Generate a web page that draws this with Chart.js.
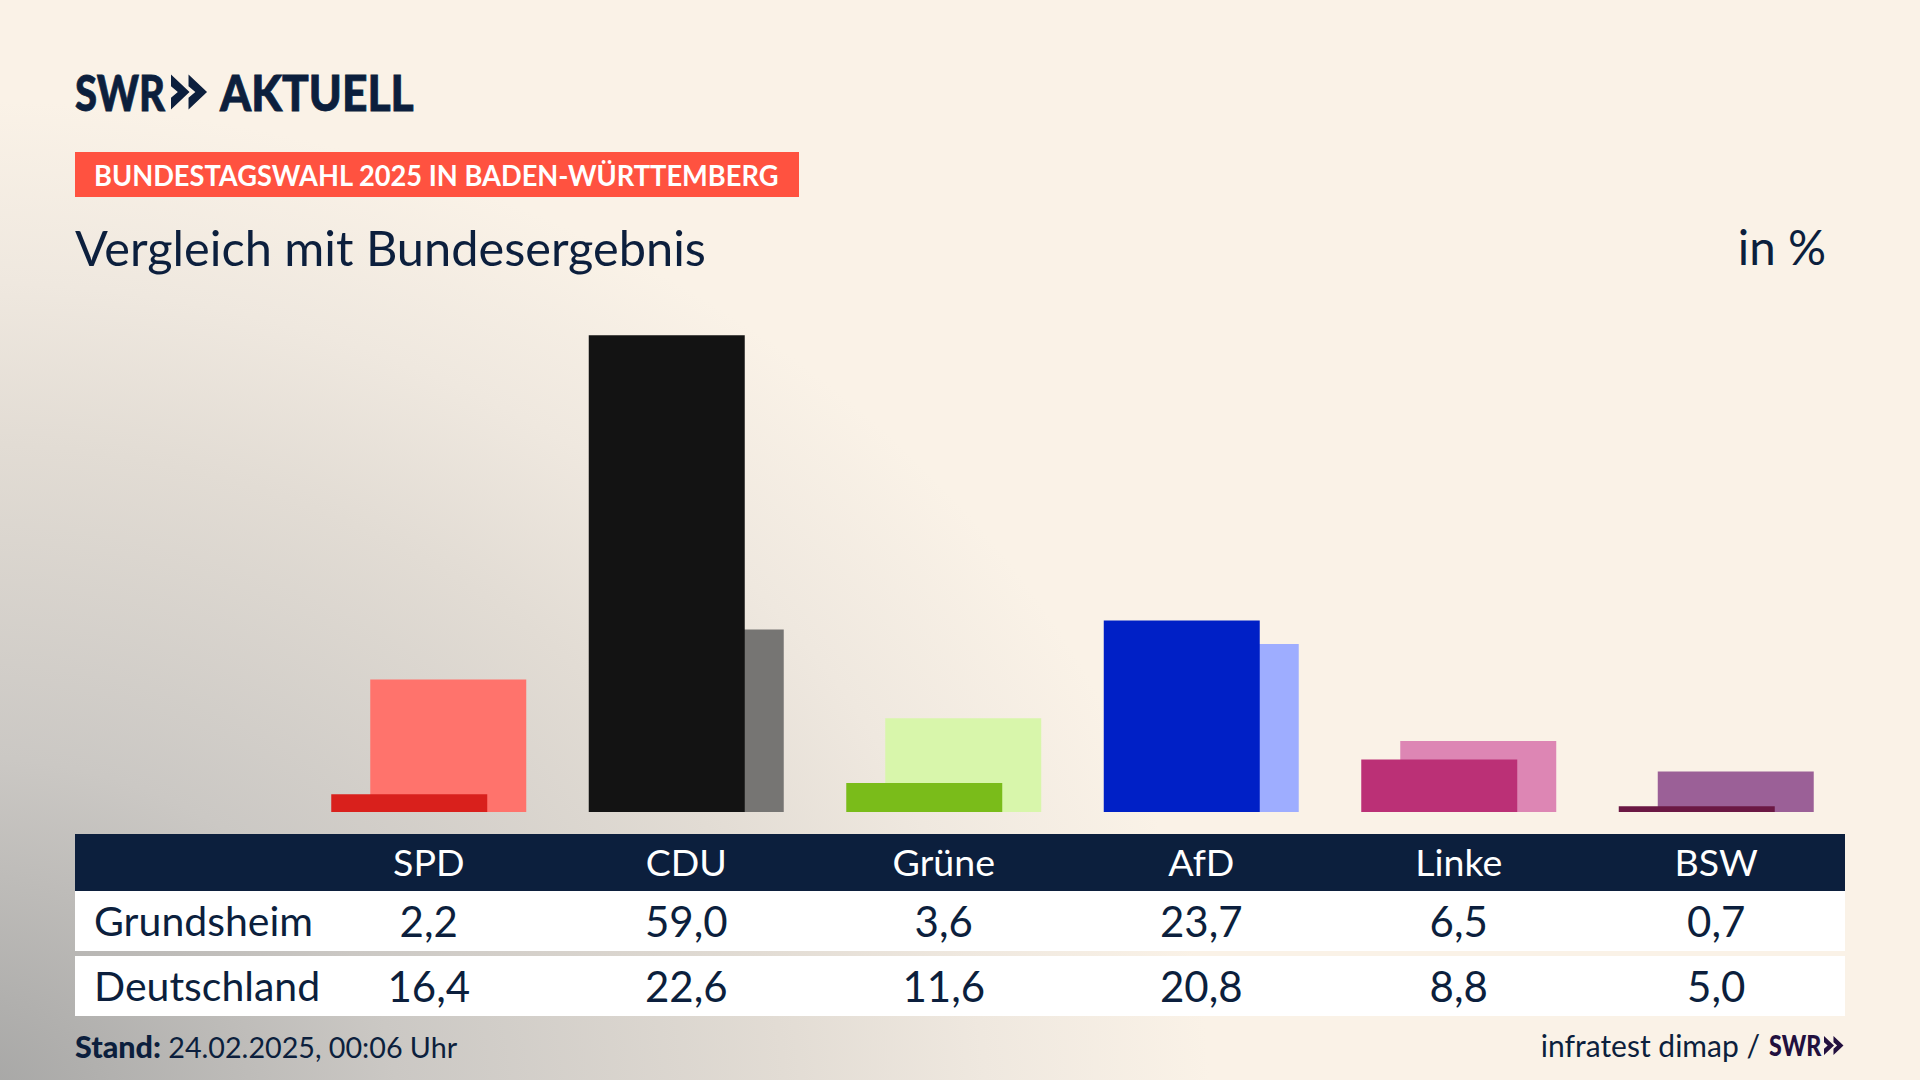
<!DOCTYPE html>
<html lang="de">
<head>
<meta charset="utf-8">
<title>Vergleich mit Bundesergebnis</title>
<script src="https://cdn.jsdelivr.net/npm/chart.js@4/dist/chart.umd.min.js"></script>
<style>
    html, body { margin: 0; padding: 0; }
    body {
        width: 1920px; height: 1080px; overflow: hidden; position: relative;
        font-family: Lato, sans-serif; color: #0c1f3d;
        background: radial-gradient(ellipse 1250px 1010px at -40px 1110px, #a4a4a3 0%, #cbc8c4 35%, #e2dcd4 66%, #efe8df 82%, #faf2e7 100%) #faf2e7;
    }
    .abs { position: absolute; white-space: nowrap; }
    .logoText { position: absolute; top: 62px; font-size: 50px; line-height: 60px; font-weight: 900;
        transform-origin: 0 50%; -webkit-text-stroke: 0.8px #0c1f3d; }
    #logoSwr { left: 75px; transform: scaleX(0.8); }
    #logoAktuell { left: 220px; transform: scaleX(0.888); }
    #logoArrows { position: absolute; left: 171px; top: 74px; }
    #badge { left: 75px; top: 152px; width: 724px; height: 45px; background: #ff5240; color: #fff;
        font-size: 29px; line-height: 45px; font-weight: 700; }
    #badge span { position: absolute; left: 19px; transform: scaleX(0.939); transform-origin: 0 50%; }
    #title { left: 75px; top: 219px; font-size: 48.7px; line-height: 56px; }
    #unit { right: 94px; top: 219px; font-size: 47.5px; line-height: 56px; }
    #chartBox { position: absolute; left: 300px; top: 328px; width: 1545px; height: 484px; }
    table { position: absolute; left: 75px; top: 834px; width: 1770px; border-collapse: separate; border-spacing: 0; table-layout: fixed; }
    th, td { padding: 0; text-align: center; font-weight: 400; }
    th { background: #0c1f3d; color: #fff; height: 57px; font-size: 37.5px; padding-bottom: 3px; box-sizing: border-box; }
    td { background: #fff; height: 60px; font-size: 42px; }
    td.first { font-size: 41px; padding-bottom: 2px; box-sizing: border-box; }
    .first { width: 225px; text-align: left; padding-left: 19px; box-sizing: border-box; }
    tr.gap td { height: 5px; background: transparent; }
    #stand { left: 75px; top: 1028px; font-size: 28.7px; line-height: 36px; }
    #stand b { font-size: 30.5px; font-weight: 900; }
    #source { right: 160px; top: 1027px; font-size: 30px; line-height: 36px; }
    #sourceSwr { position: absolute; left: 1769px; top: 1027px; font-size: 29px; line-height: 36px; font-weight: 900;
        color: #22103f; transform: scaleX(0.8); transform-origin: 0 50%; }
    #sourceArrows { position: absolute; left: 1824px; top: 1035px; }
</style>
</head>
<body>
<div class="logoText" id="logoSwr">SWR</div>
<svg id="logoArrows" width="37" height="36" viewBox="0 0 38 36"><path d="M0 0 L19 18 L0 36 L0 24 L7 18 L0 12Z M18 0 L37 18 L18 36 L18 24 L25 18 L18 12Z" fill="#0c1f3d"/></svg>
<div class="logoText" id="logoAktuell">AKTUELL</div>
<div class="abs" id="badge"><span id="badgeText"></span></div>
<div class="abs" id="title"></div>
<div class="abs" id="unit"></div>
<div id="chartBox"><canvas id="voteChart" width="1545" height="484"></canvas></div>
<table id="voteTable"></table>
<div class="abs" id="stand"></div>
<div class="abs" id="source"></div>
<div id="sourceSwr">SWR</div>
<svg id="sourceArrows" width="20" height="21" viewBox="0 0 38 36"><path d="M0 0 L19 18 L0 36 L0 24 L7 18 L0 12Z M18 0 L37 18 L18 36 L18 24 L25 18 L18 12Z" fill="#22103f"/></svg>

<script>
const parties = ["SPD", "CDU", "Grüne", "AfD", "Linke", "BSW"];
const localName = "Grundsheim";
const nationalName = "Deutschland";
const localValues = [2.2, 59.0, 3.6, 23.7, 6.5, 0.7];
const nationalValues = [16.4, 22.6, 11.6, 20.8, 8.8, 5.0];
const localColors = ["#d9201c", "#131313", "#7abc1a", "#0020c6", "#bb3076", "#6b1844"];
const nationalColors = ["#ff736c", "#767573", "#d8f6ab", "#9eadff", "#dd86b4", "#9b6097"];

const badgeText = "BUNDESTAGSWAHL 2025 IN BADEN-WÜRTTEMBERG";
const titleText = "Vergleich mit Bundesergebnis";
const unitText = "in %";
const standLabel = "Stand:";
const standText = "24.02.2025, 00:06 Uhr";
const sourceText = "infratest dimap /";

document.getElementById("badgeText").textContent = badgeText;
document.getElementById("title").textContent = titleText;
document.getElementById("unit").textContent = unitText;
document.getElementById("stand").innerHTML = "<b>" + standLabel + "</b> " + standText;
document.getElementById("source").textContent = sourceText;

const fmt = (v) => v.toFixed(1).replace(".", ",");
const row = (name, values) => "<tr><td class='first'>" + name + "</td>" +
    values.map((v) => "<td>" + fmt(v) + "</td>").join("") + "</tr>";
document.getElementById("voteTable").innerHTML =
    "<tr><th class='first'></th>" + parties.map((p) => "<th>" + p + "</th>").join("") + "</tr>" +
    row(localName, localValues) +
    "<tr class='gap'><td colspan='7'></td></tr>" +
    row(nationalName, nationalValues);

new Chart(document.getElementById("voteChart").getContext("2d"), {
    type: "bar",
    data: {
        labels: parties,
        datasets: [
            { label: localName, data: localValues, backgroundColor: localColors, order: 1 },
            { label: nationalName, data: nationalValues, backgroundColor: nationalColors, order: 2 },
        ],
    },
    options: {
        responsive: false,
        animation: false,
        // bars are wider than their group slot so the two overlap
        categoryPercentage: 0.3029,
        barPercentage: 4,
        layout: { padding: 0 },
        plugins: { legend: { display: false }, tooltip: { enabled: false } },
        scales: {
            x: { display: false },
            y: { display: false, min: 0, max: 59.9 },
        },
    },
});
</script>
</body>
</html>
